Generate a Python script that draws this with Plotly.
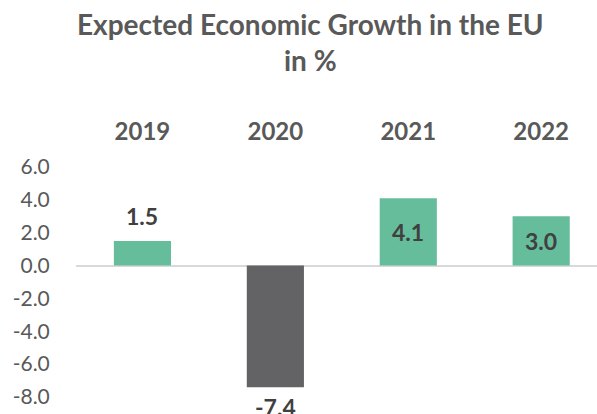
import plotly.graph_objects as go

# Expected EU GDP growth by year, in percent
years = ["2019", "2020", "2021", "2022"]
growth = [1.5, -7.4, 4.1, 3.0]
label_inside = [False, False, True, True]

y_ticks = [6, 4, 2, 0, -2, -4, -6, -8]

GREEN = "#66BD9C"
DARK = "#636365"
TEXT = "#595959"
LABEL = "#404040"
FONT = "Lato, Open Sans, sans-serif"

bar_colors = [GREEN if v >= 0 else DARK for v in growth]

fig = go.Figure(
    go.Bar(
        x=years,
        y=growth,
        marker=dict(color=bar_colors, line=dict(width=0)),
        width=0.43,
        hoverinfo="skip",
    )
)

# Value labels: centred inside the taller bars, beyond the end of the others
for i, (v, inside) in enumerate(zip(growth, label_inside)):
    if inside:
        fig.add_annotation(x=i, y=v / 2, text=f"<b>{v:.1f}</b>", showarrow=False,
                           yanchor="middle", font=dict(size=23, color=LABEL, family=FONT))
    else:
        fig.add_annotation(x=i, y=v, text=f"<b>{v:.1f}</b>", showarrow=False,
                           yanchor="bottom" if v >= 0 else "top",
                           yshift=9 if v >= 0 else -4,
                           font=dict(size=23, color=LABEL, family=FONT))

# Two-line chart title
fig.add_annotation(
    xref="paper", yref="paper", x=0.451, y=1.545,
    xanchor="center", yanchor="middle",
    text="<b>Expected Economic Growth in the EU<br>in %</b>",
    showarrow=False,
    font=dict(size=28, color=TEXT, family=FONT),
)

fig.update_layout(
    width=597,
    height=414,
    margin=dict(l=76, r=0, t=167, b=17),
    paper_bgcolor="white",
    plot_bgcolor="white",
    showlegend=False,
    xaxis=dict(
        side="top",
        type="category",
        range=[-0.5, 3.42],
        showgrid=False,
        showline=False,
        zeroline=False,
        ticks="outside",
        ticklen=16,
        tickcolor="rgba(0,0,0,0)",
        tickfont=dict(size=24, color=TEXT, family=FONT),
        tickprefix="<b>",
        ticksuffix="</b>",
    ),
    yaxis=dict(
        range=[-8, 6],
        tickvals=y_ticks,
        ticktext=[f"{t:.1f}" for t in y_ticks],
        showgrid=False,
        showline=False,
        zeroline=True,
        zerolinecolor="#D9D9D9",
        zerolinewidth=1.5,
        ticks="outside",
        ticklen=21,
        tickcolor="rgba(0,0,0,0)",
        tickfont=dict(size=21, color=TEXT, family=FONT),
    ),
)

fig.write_html("out.html")
